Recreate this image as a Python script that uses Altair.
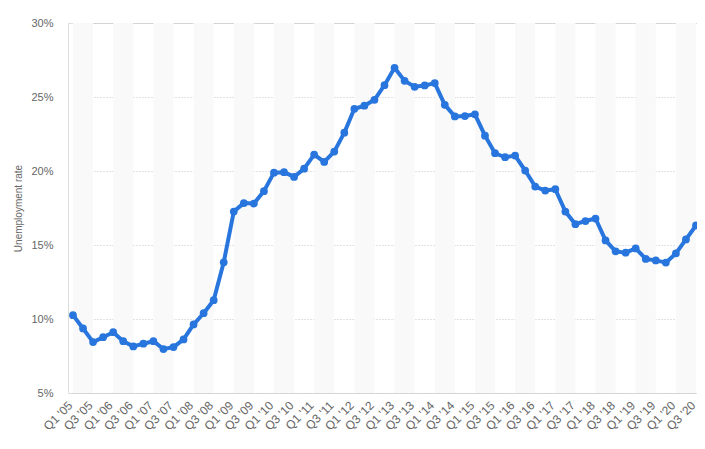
import altair as alt
import pandas as pd

years = ["05", "06", "07", "08", "09", "10", "11", "12", "13", "14",
         "15", "16", "17", "18", "19", "20"]
quarters = ["Q1", "Q2", "Q3", "Q4"]
labels = [f"{q} '{y}" for y in years for q in quarters][:63]

rates = [10.26, 9.36, 8.44, 8.77, 9.11, 8.50, 8.15, 8.33, 8.50, 7.97,
         8.10, 8.62, 9.63, 10.39, 11.27, 13.83, 17.26, 17.83, 17.80, 18.64,
         19.89, 19.92, 19.60, 20.16, 21.11, 20.61, 21.31, 22.59, 24.20, 24.41,
         24.81, 25.80, 26.97, 26.09, 25.69, 25.78, 25.94, 24.47, 23.69, 23.71,
         23.83, 22.39, 21.20, 20.93, 21.04, 20.03, 18.95, 18.68, 18.77, 17.26,
         16.41, 16.62, 16.79, 15.31, 14.57, 14.48, 14.77, 14.06, 13.96, 13.81,
         14.43, 15.38, 16.32]

band_start = [f"Q1 '{y}" for y in years]
band_end = [f"Q3 '{y}" for y in years]

FONT = "Liberation Sans"
BLUE = "#2876dd"

df = pd.DataFrame({"q": labels, "v": rates})
bands = pd.DataFrame({"s": band_start, "e": band_end})

xscale = alt.Scale(type="point", domain=labels, padding=0, range=[5, 628])

band_layer = alt.Chart(bands).mark_rect(color="#f9f9f9").encode(
    x=alt.X("s:N", scale=xscale, title=None),
    x2="e:N",
    y=alt.value(0),
    y2=alt.value(370),
)

line_layer = alt.Chart(df).mark_line(
    color=BLUE, strokeWidth=4, strokeJoin="round",
    point=alt.OverlayMarkDef(filled=True, size=60, color=BLUE, opacity=1),
).encode(
    x=alt.X("q:N", scale=xscale, title=None,
            axis=alt.Axis(values=labels[::2], labelAngle=-45, labelFont=FONT,
                          labelFontSize=12, labelColor="#666666", ticks=False,
                          domain=False, grid=False, labelPadding=10,
                          labelOffset=-3, labelBaseline="middle")),
    y=alt.Y("v:Q", scale=alt.Scale(domain=[5, 30], nice=False, zero=False),
            title="Unemployment rate",
            axis=alt.Axis(values=[5, 10, 15, 20, 25, 30],
                          labelExpr="datum.value + '%'", labelFont=FONT,
                          labelFontSize=11, labelColor="#666666", ticks=False,
                          domain=False, labelPadding=15, grid=True,
                          gridColor="#c4c4c4", gridDash=[1, 2], gridWidth=1,
                          titleFont=FONT, titleFontSize=10, titleFontWeight="normal",
                          titleColor="#666666", titleX=-50, titleY=185,
                          titleAngle=-90, titleAlign="center",
                          titleBaseline="middle")),
)

chart = alt.layer(band_layer, line_layer).properties(
    width=629, height=370,
    autosize=alt.AutoSizeParams(type="none"),
    padding={"left": 60, "top": 15, "right": 0, "bottom": 48},
).configure_view(stroke=None).configure(background="white")

chart.save("out.html", embed_options={"renderer": "svg", "actions": False})
